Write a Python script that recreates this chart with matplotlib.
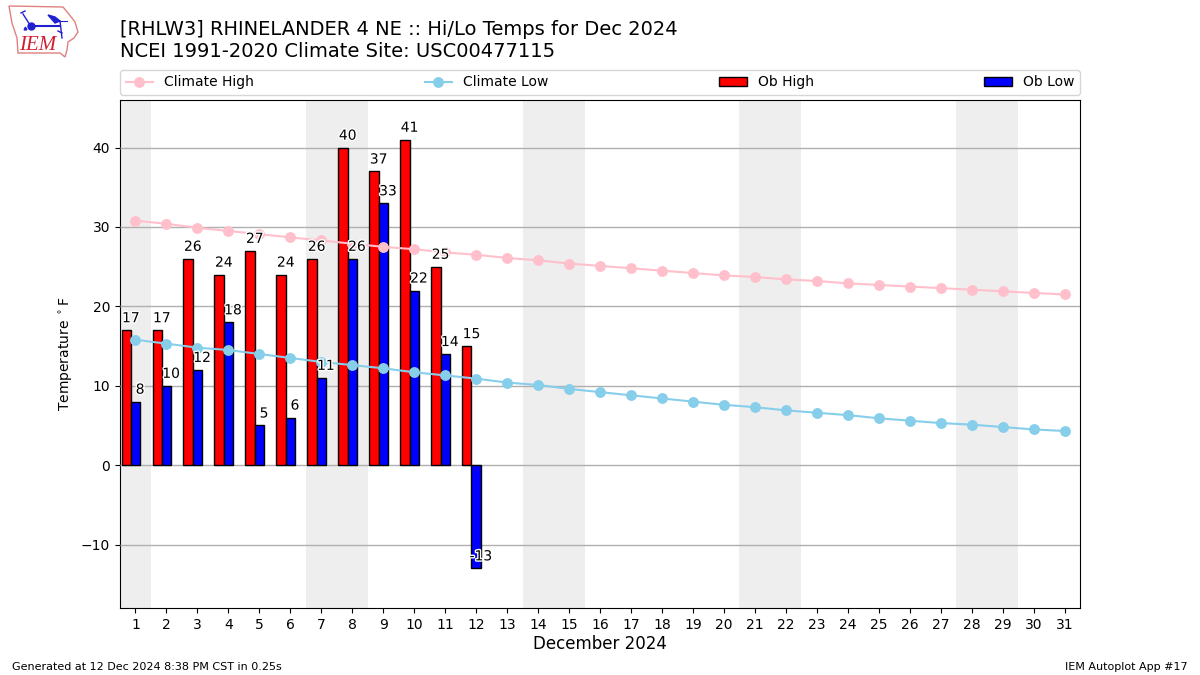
import matplotlib
matplotlib.use("Agg")
from matplotlib import pyplot as plt
import matplotlib.patheffects as PathEffects
from matplotlib.patches import Polygon

days = list(range(1, 32))
ob_high = [17, 17, 26, 24, 27, 24, 26, 40, 37, 41, 25, 15]
ob_low = [8, 10, 12, 18, 5, 6, 11, 26, 33, 22, 14, -13]
climate_high = [30.8, 30.4, 29.9, 29.5, 29.1, 28.7, 28.3, 27.9, 27.5, 27.2, 26.8,
                26.5, 26.1, 25.8, 25.4, 25.1, 24.8, 24.5, 24.2, 23.9, 23.7, 23.4,
                23.2, 22.9, 22.7, 22.5, 22.3, 22.1, 21.9, 21.7, 21.5]
climate_low = [15.8, 15.3, 14.8, 14.5, 14.0, 13.5, 13.0, 12.6, 12.2, 11.7, 11.3,
               10.9, 10.4, 10.1, 9.6, 9.2, 8.8, 8.4, 8.0, 7.6, 7.3, 6.9,
               6.6, 6.3, 5.9, 5.6, 5.3, 5.1, 4.8, 4.5, 4.3]
weekends = [(0.5, 1.5), (6.5, 8.5), (13.5, 15.5), (20.5, 22.5), (27.5, 29.5)]


def draw_logo(fig):
    # rough sketch of the IEM logo, in pixel coords of the logo box
    ax = fig.add_axes([0, 1 - 60 / 675, 90 / 1200, 60 / 675])
    ax.set_xlim(0, 90)
    ax.set_ylim(60, 0)
    ax.axis("off")
    outline = [(9, 6), (63, 7), (68, 13), (75, 22), (78, 32), (74, 38), (68, 42),
               (67, 50), (65, 57), (60, 53), (18, 53), (17, 38), (12, 23)]
    ax.add_patch(Polygon(outline, closed=True, fill=False, ec="#e08080", lw=1))
    blue = "#2020d0"
    ax.plot([31, 60], [26, 26], color=blue, lw=1.5)
    ax.plot([31], [26], "o", color=blue, ms=5)
    ax.plot([23, 30], [14, 25], color=blue, lw=1)
    ax.plot([21, 25], [13, 11], color=blue, lw=1)
    ax.plot([25], [28], "^", color=blue, ms=2)
    ax.add_patch(Polygon([(48, 15), (55, 17), (60, 21), (55, 23)], closed=True, color=blue))
    ax.plot([55, 67], [21, 21], color=blue, lw=0.8)
    ax.plot([60, 62], [21, 38], color=blue, lw=1)
    ax.plot([58, 62], [31, 33], color=blue, lw=1)
    ax.text(37.5, 45, "IEM", color="#d02030", fontsize=15, family="Liberation Serif",
            style="italic", ha="center", va="center")


def main():
    fig = plt.figure(figsize=(12, 6.75), dpi=100)
    ax = fig.add_axes([120 / 1200, 1 - 608 / 675, 960 / 1200, 508 / 675])

    for start, end in weekends:
        ax.axvspan(start, end, color="#EEEEEE", lw=0, zorder=1)

    ax.grid(axis="y", color="#b0b0b0", lw=1, zorder=2)
    ax.set_axisbelow(False)

    ax.plot(days, climate_high, color="pink", marker="o", lw=1.5, ms=6.8,
            label="Climate High", zorder=4)
    ax.plot(days, climate_low, color="skyblue", marker="o", lw=1.5, ms=6.8,
            label="Climate Low", zorder=4)
    x = days[:len(ob_high)]
    ax.bar([d - 0.3 for d in x], ob_high, width=0.3, color="r", ec="k",
           label="Ob High", zorder=3)
    ax.bar(x, ob_low, width=0.3, color="b", ec="k", label="Ob Low", zorder=3)

    effect = [PathEffects.withStroke(linewidth=2, foreground="white")]
    for d, val in zip(x, ob_high):
        ax.text(d - 0.15, val + 1, str(val), ha="center", fontsize=10,
                path_effects=effect, zorder=5)
    for d, val in zip(x, ob_low):
        ax.text(d + 0.15, val + 1, str(val), ha="center", fontsize=10,
                path_effects=effect, zorder=5)

    ax.set_xlim(0.5, 31.5)
    ax.set_ylim(-18, 46)
    ax.set_xticks(days)
    ax.set_yticks([-10, 0, 10, 20, 30, 40])
    ax.set_ylabel(r"Temperature $^\circ$F")
    ax.set_xlabel("December 2024", fontsize=12, labelpad=2.7)

    ax.legend(bbox_to_anchor=(0, 1.01, 1, 0.05), loc="lower left", ncol=4,
              mode="expand", borderaxespad=0, fontsize=10)

    fig.text(120 / 1200, 1 - 35 / 675, "[RHLW3] RHINELANDER 4 NE :: Hi/Lo Temps for Dec 2024",
             fontsize=14, va="baseline")
    fig.text(120 / 1200, 1 - 57 / 675, "NCEI 1991-2020 Climate Site: USC00477115",
             fontsize=14, va="baseline")
    fig.text(12 / 1200, 1 - 670 / 675, "Generated at 12 Dec 2024 8:38 PM CST in 0.25s",
             fontsize=8, va="baseline")
    fig.text(1188 / 1200, 1 - 670 / 675, "IEM Autoplot App #17", fontsize=8,
             ha="right", va="baseline")

    draw_logo(fig)
    fig.savefig("out.png", dpi=100)


if __name__ == "__main__":
    main()
